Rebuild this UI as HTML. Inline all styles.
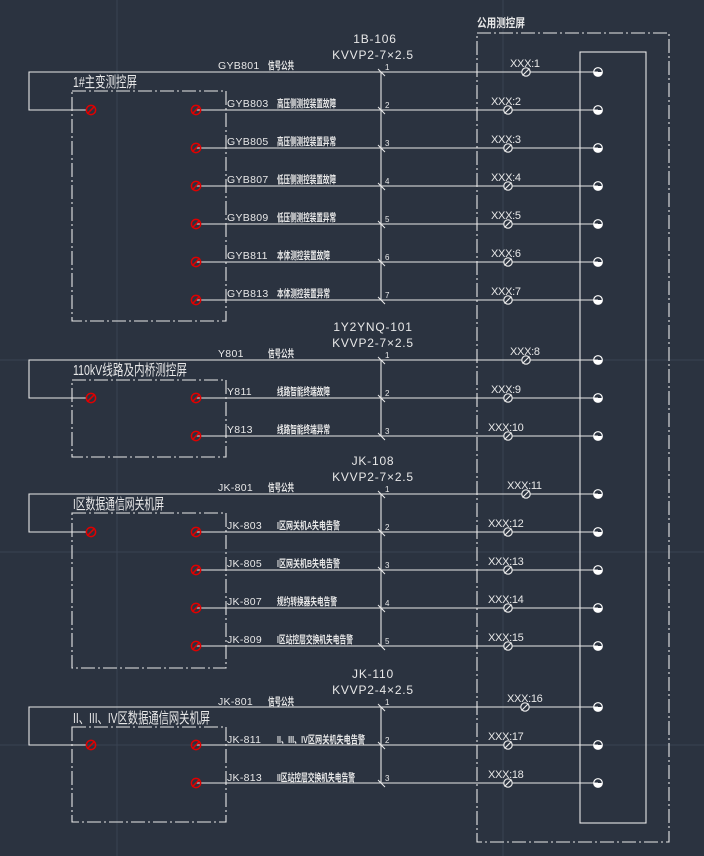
<!DOCTYPE html>
<html><head><meta charset="utf-8"><style>
html,body{margin:0;padding:0;background:#2b3340;}
svg{display:block}
text{font-family:"Liberation Sans","Noto Sans CJK SC",sans-serif;fill:#e8e8e8}
.l{font-size:10.5px;letter-spacing:0.3px}
.d{font-size:10.5px;font-weight:bold}
.t{font-size:15px}
.n{font-size:8px}
.x{font-size:11px;letter-spacing:-0.3px}
.c{font-size:12px;letter-spacing:0.8px}
</style></head><body>
<svg width="704" height="856" viewBox="0 0 704 856" xmlns="http://www.w3.org/2000/svg">
<defs>
<g id="r"><circle r="4.6" fill="none" stroke="#e00000" stroke-width="1.5"/><line x1="-3.8" y1="3.8" x2="3.8" y2="-3.8" stroke="#e00000" stroke-width="1.5"/></g>
<g id="w"><circle r="4.2" fill="#2b3340" stroke="#e8e8e8" stroke-width="1.2"/><line x1="-3.5" y1="3.5" x2="3.5" y2="-3.5" stroke="#e8e8e8" stroke-width="1.2"/></g>
<g id="t"><circle r="4.3" fill="none" stroke="#fff" stroke-width="1.2"/><path d="M-4.3 0 A4.3 4.3 0 0 0 4.3 0 Z" fill="#fff"/></g>
<g id="k"><line x1="-3" y1="-3" x2="4" y2="4" stroke="#e8e8e8" stroke-width="1"/></g>
</defs>
<g stroke="#3a4352" stroke-width="1">
<line x1="117" y1="0" x2="117" y2="856"/><line x1="503" y1="0" x2="503" y2="856"/>
<line x1="0" y1="360" x2="704" y2="360"/><line x1="0" y1="552" x2="704" y2="552"/><line x1="0" y1="745" x2="704" y2="745"/>
</g>
<g fill="none" stroke="#e8e8e8" stroke-width="1.1">
<rect x="477" y="33" width="192" height="809" stroke-dasharray="14,3,2,3"/>
<rect x="580" y="52" width="66" height="771"/>
<rect x="72" y="91" width="154" height="230" stroke-dasharray="14,3,2,3"/>
<rect x="72" y="380" width="154" height="77" stroke-dasharray="14,3,2,3"/>
<rect x="72" y="513" width="154" height="155" stroke-dasharray="14,3,2,3"/>
<rect x="72" y="727" width="154" height="95" stroke-dasharray="14,3,2,3"/>
<polyline points="87,110 29,110 29,72 598,72"/>
<polyline points="87,398 29,398 29,360 598,360"/>
<polyline points="87,532 29,532 29,494 598,494"/>
<polyline points="87,745 29,745 29,707 598,707"/>
<path d="M196 110H598M196 148H598M196 186H598M196 224H598M196 262H598M196 300H598M196 398H598M196 436H598M196 532H598M196 570H598M196 608H598M196 646H598M196 745H598M196 783H598"/>
<path d="M381 72V300M381 360V436M381 494V646M381 707V783"/>
</g>
<g>
<use href="#k" x="381" y="72"/><use href="#k" x="381" y="110"/><use href="#k" x="381" y="148"/><use href="#k" x="381" y="186"/><use href="#k" x="381" y="224"/><use href="#k" x="381" y="262"/><use href="#k" x="381" y="300"/>
<use href="#k" x="381" y="360"/><use href="#k" x="381" y="398"/><use href="#k" x="381" y="436"/>
<use href="#k" x="381" y="494"/><use href="#k" x="381" y="532"/><use href="#k" x="381" y="570"/><use href="#k" x="381" y="608"/><use href="#k" x="381" y="646"/>
<use href="#k" x="381" y="707"/><use href="#k" x="381" y="745"/><use href="#k" x="381" y="783"/>
</g>
<g>
<use href="#r" x="91" y="110"/><use href="#r" x="196" y="110"/><use href="#r" x="196" y="148"/><use href="#r" x="196" y="186"/><use href="#r" x="196" y="224"/><use href="#r" x="196" y="262"/><use href="#r" x="196" y="300"/>
<use href="#r" x="91" y="398"/><use href="#r" x="196" y="398"/><use href="#r" x="196" y="436"/>
<use href="#r" x="91" y="532"/><use href="#r" x="196" y="532"/><use href="#r" x="196" y="570"/><use href="#r" x="196" y="608"/><use href="#r" x="196" y="646"/>
<use href="#r" x="91" y="745"/><use href="#r" x="196" y="745"/><use href="#r" x="196" y="783"/>
</g>
<g>
<use href="#w" x="526" y="72"/><use href="#w" x="508" y="110"/><use href="#w" x="508" y="148"/><use href="#w" x="508" y="186"/><use href="#w" x="508" y="224"/><use href="#w" x="508" y="262"/><use href="#w" x="508" y="300"/>
<use href="#w" x="526" y="360"/><use href="#w" x="508" y="398"/><use href="#w" x="508" y="436"/>
<use href="#w" x="526" y="494"/><use href="#w" x="508" y="532"/><use href="#w" x="508" y="570"/><use href="#w" x="508" y="608"/><use href="#w" x="508" y="646"/>
<use href="#w" x="525" y="707"/><use href="#w" x="508" y="745"/><use href="#w" x="508" y="783"/>
</g>
<g>
<use href="#t" x="598" y="72"/><use href="#t" x="598" y="110"/><use href="#t" x="598" y="148"/><use href="#t" x="598" y="186"/><use href="#t" x="598" y="224"/><use href="#t" x="598" y="262"/><use href="#t" x="598" y="300"/>
<use href="#t" x="598" y="360"/><use href="#t" x="598" y="398"/><use href="#t" x="598" y="436"/>
<use href="#t" x="598" y="494"/><use href="#t" x="598" y="532"/><use href="#t" x="598" y="570"/><use href="#t" x="598" y="608"/><use href="#t" x="598" y="646"/>
<use href="#t" x="598" y="707"/><use href="#t" x="598" y="745"/><use href="#t" x="598" y="783"/>
</g>
<text class="t" x="73" y="87" textLength="64" lengthAdjust="spacingAndGlyphs">1#主变测控屏</text>
<text class="t" x="73" y="375" textLength="114" lengthAdjust="spacingAndGlyphs">110kV线路及内桥测控屏</text>
<text class="t" x="73" y="509" textLength="91" lengthAdjust="spacingAndGlyphs">I区数据通信网关机屏</text>
<text class="t" x="73" y="723" textLength="137" lengthAdjust="spacingAndGlyphs">II、III、IV区数据通信网关机屏</text>
<text class="d" x="477" y="27" style="font-size:12px" textLength="48" lengthAdjust="spacingAndGlyphs">公用测控屏</text>
<text class="c" x="375" y="43" text-anchor="middle">1B-106</text>
<text class="c" x="373" y="59" text-anchor="middle">KVVP2-7×2.5</text>
<text class="c" x="373" y="331" text-anchor="middle">1Y2YNQ-101</text>
<text class="c" x="373" y="347" text-anchor="middle">KVVP2-7×2.5</text>
<text class="c" x="373" y="465" text-anchor="middle">JK-108</text>
<text class="c" x="373" y="481" text-anchor="middle">KVVP2-7×2.5</text>
<text class="c" x="373" y="678" text-anchor="middle">JK-110</text>
<text class="c" x="373" y="694" text-anchor="middle">KVVP2-4×2.5</text>
<g class="l">
<text x="218" y="69">GYB801</text><text x="227" y="107">GYB803</text><text x="227" y="145">GYB805</text><text x="227" y="183">GYB807</text><text x="227" y="221">GYB809</text><text x="227" y="259">GYB811</text><text x="227" y="297">GYB813</text>
<text x="218" y="357">Y801</text><text x="227" y="395">Y811</text><text x="227" y="433">Y813</text>
<text x="218" y="491">JK-801</text><text x="227" y="529">JK-803</text><text x="227" y="567">JK-805</text><text x="227" y="605">JK-807</text><text x="227" y="643">JK-809</text>
<text x="218" y="705">JK-801</text><text x="227" y="743">JK-811</text><text x="227" y="781">JK-813</text>
</g>
<g class="d">
<text x="268" y="69" textLength="26" lengthAdjust="spacingAndGlyphs">信号公共</text>
<text x="277" y="107" textLength="59" lengthAdjust="spacingAndGlyphs">高压侧测控装置故障</text>
<text x="277" y="145" textLength="59" lengthAdjust="spacingAndGlyphs">高压侧测控装置异常</text>
<text x="277" y="183" textLength="59" lengthAdjust="spacingAndGlyphs">低压侧测控装置故障</text>
<text x="277" y="221" textLength="59" lengthAdjust="spacingAndGlyphs">低压侧测控装置异常</text>
<text x="277" y="259" textLength="53" lengthAdjust="spacingAndGlyphs">本体测控装置故障</text>
<text x="277" y="297" textLength="53" lengthAdjust="spacingAndGlyphs">本体测控装置异常</text>
<text x="268" y="357" textLength="26" lengthAdjust="spacingAndGlyphs">信号公共</text>
<text x="277" y="395" textLength="53" lengthAdjust="spacingAndGlyphs">线路智能终端故障</text>
<text x="277" y="433" textLength="53" lengthAdjust="spacingAndGlyphs">线路智能终端异常</text>
<text x="268" y="491" textLength="26" lengthAdjust="spacingAndGlyphs">信号公共</text>
<text x="277" y="529" textLength="63" lengthAdjust="spacingAndGlyphs">I区网关机A失电告警</text>
<text x="277" y="567" textLength="63" lengthAdjust="spacingAndGlyphs">I区网关机B失电告警</text>
<text x="277" y="605" textLength="60" lengthAdjust="spacingAndGlyphs">规约转换器失电告警</text>
<text x="277" y="643" textLength="76" lengthAdjust="spacingAndGlyphs">I区站控层交换机失电告警</text>
<text x="268" y="705" textLength="26" lengthAdjust="spacingAndGlyphs">信号公共</text>
<text x="277" y="743" textLength="88" lengthAdjust="spacingAndGlyphs">II、III、IV区网关机失电告警</text>
<text x="277" y="781" textLength="78" lengthAdjust="spacingAndGlyphs">II区站控层交换机失电告警</text>
</g>
<g class="n">
<text x="385" y="70">1</text><text x="385" y="108">2</text><text x="385" y="146">3</text><text x="385" y="184">4</text><text x="385" y="222">5</text><text x="385" y="260">6</text><text x="385" y="298">7</text>
<text x="385" y="358">1</text><text x="385" y="396">2</text><text x="385" y="434">3</text>
<text x="385" y="492">1</text><text x="385" y="530">2</text><text x="385" y="568">3</text><text x="385" y="606">4</text><text x="385" y="644">5</text>
<text x="385" y="705">1</text><text x="385" y="743">2</text><text x="385" y="781">3</text>
</g>
<g class="x">
<text x="510" y="67">XXX:1</text><text x="491" y="105">XXX:2</text><text x="491" y="143">XXX:3</text><text x="491" y="181">XXX:4</text><text x="491" y="219">XXX:5</text><text x="491" y="257">XXX:6</text><text x="491" y="295">XXX:7</text>
<text x="510" y="355">XXX:8</text><text x="491" y="393">XXX:9</text><text x="488" y="431">XXX:10</text>
<text x="507" y="489">XXX:11</text><text x="488" y="527">XXX:12</text><text x="488" y="565">XXX:13</text><text x="488" y="603">XXX:14</text><text x="488" y="641">XXX:15</text>
<text x="507" y="702">XXX:16</text><text x="488" y="740">XXX:17</text><text x="488" y="778">XXX:18</text>
</g>
</svg>
</body></html>
